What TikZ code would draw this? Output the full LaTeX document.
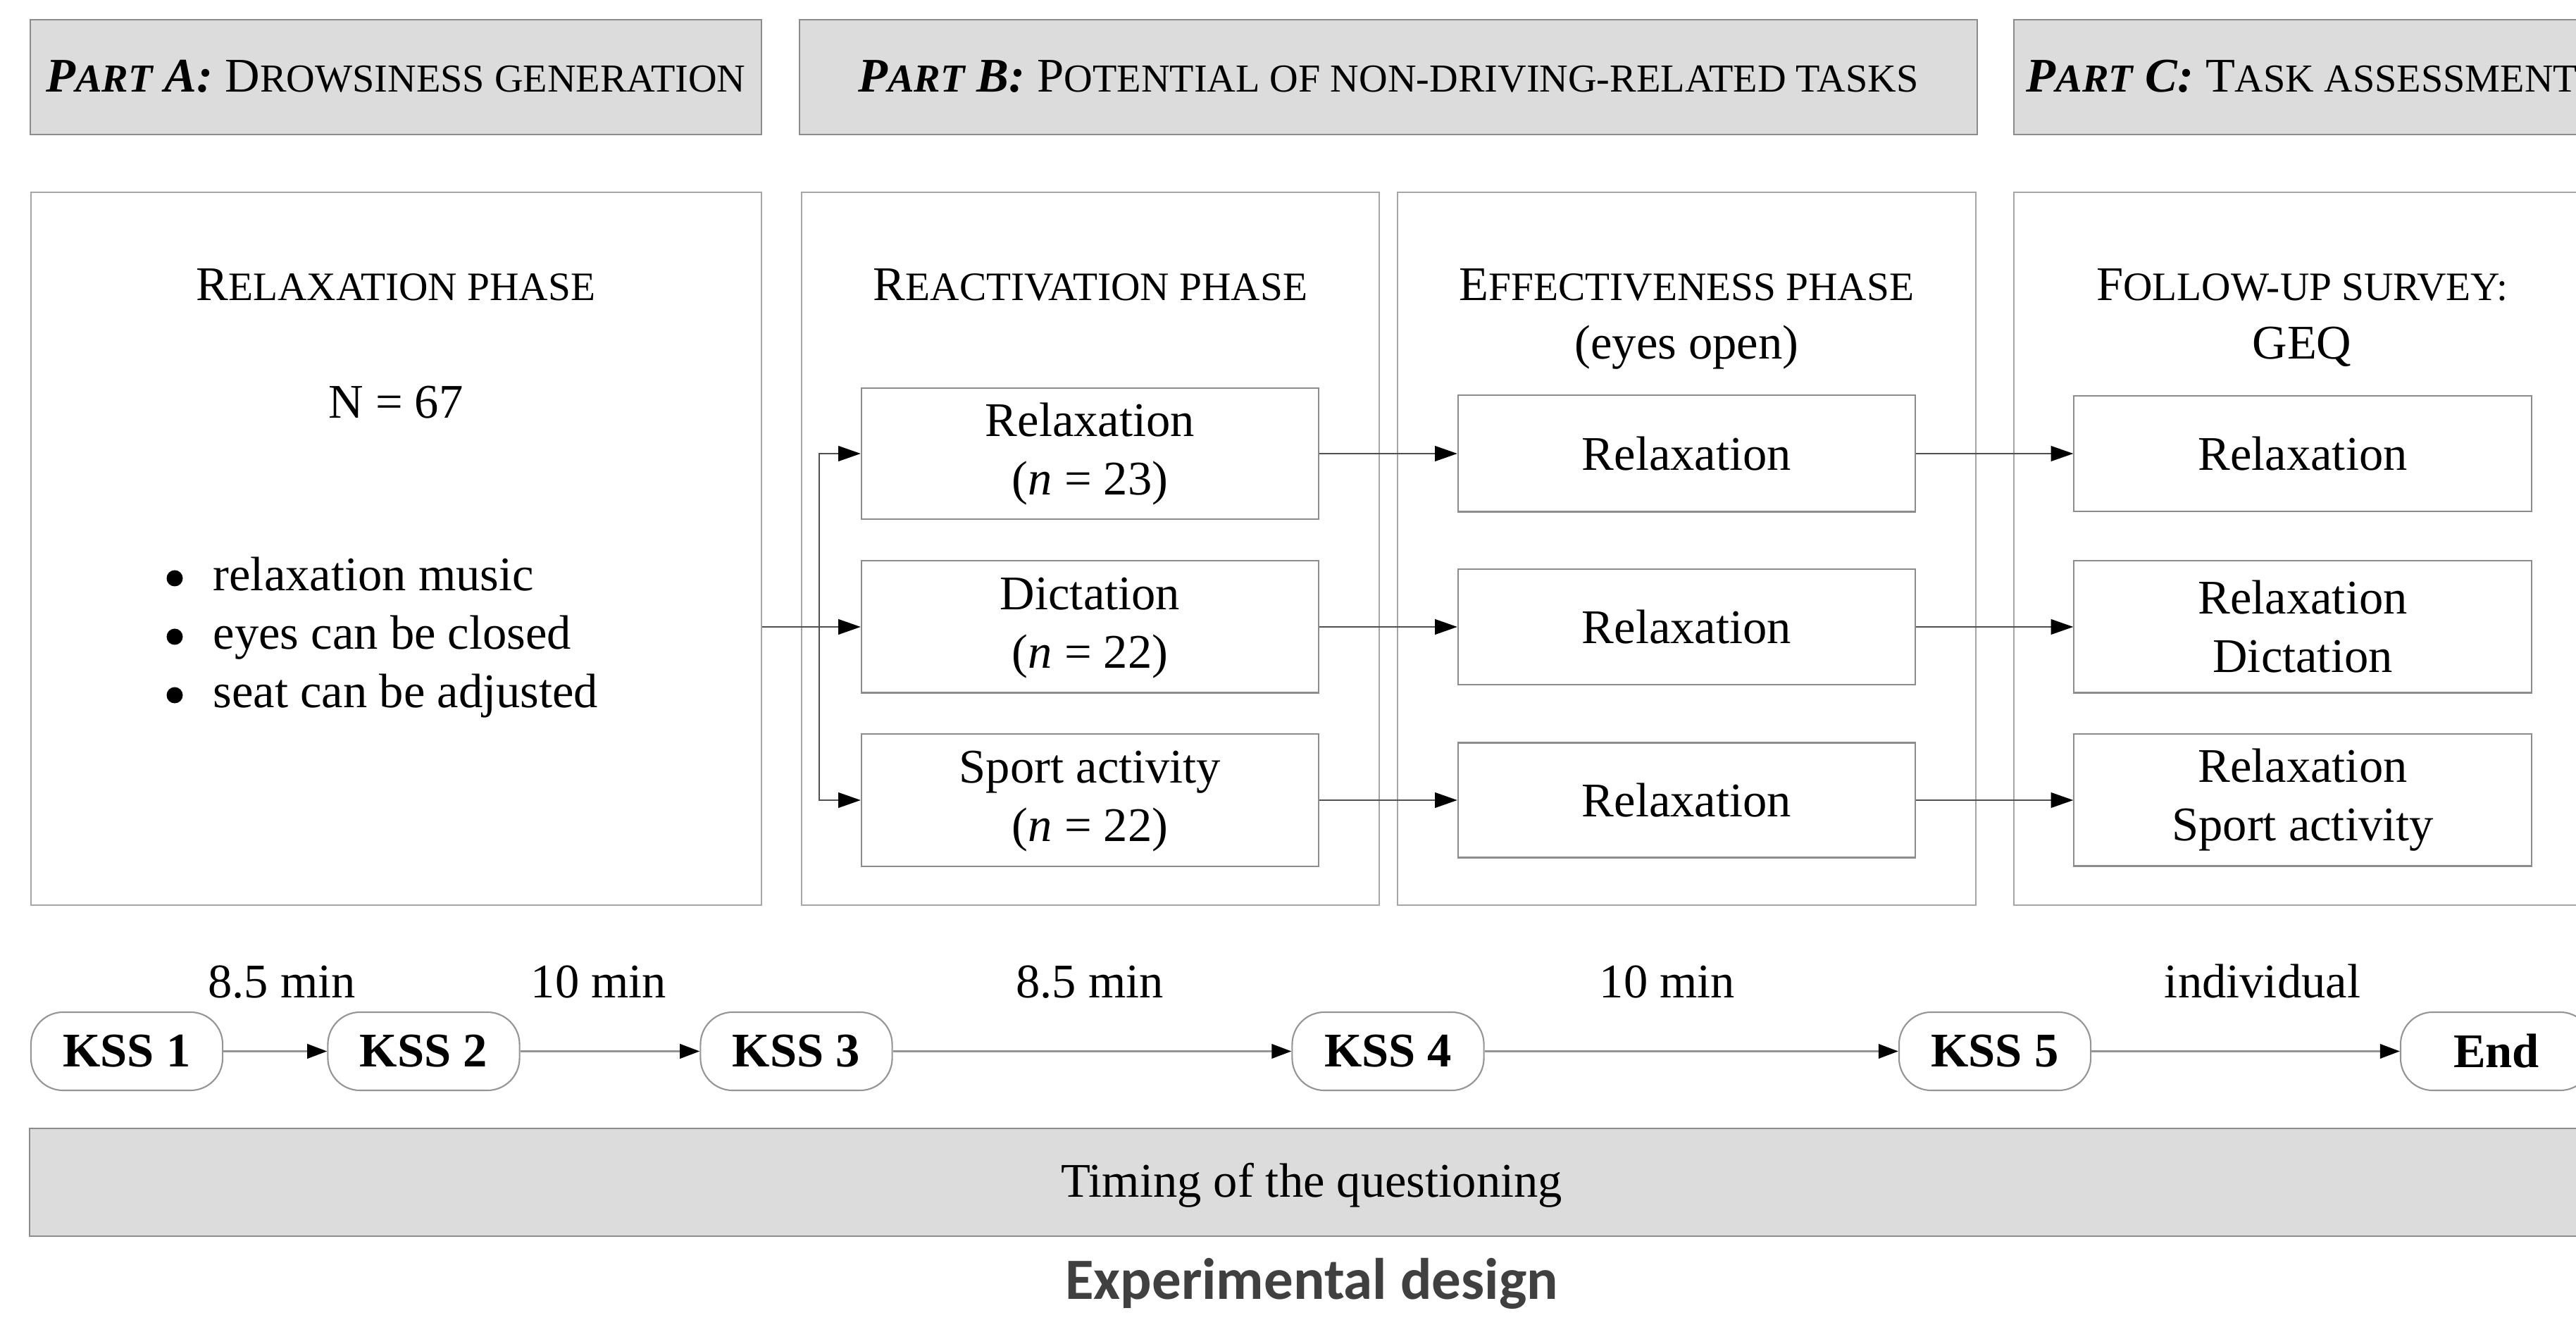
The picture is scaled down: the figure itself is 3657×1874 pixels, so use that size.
\documentclass[tikz,border=0pt]{standalone}
\usepackage{fontspec}
\setmainfont{Liberation Serif}
\newfontfamily\titlefont{Carlito}
\usetikzlibrary{arrows.meta,fit}
\newcommand\bodyfont{\fontsize{19.5pt}{23.6pt}\selectfont}
\newcommand\smcap[1]{{\fontsize{16.3pt}{19pt}\selectfont #1}}
\newcommand\hsmcap[1]{{\fontsize{16.0pt}{19pt}\selectfont #1}}
\definecolor{hdrfill}{HTML}{DCDCDC}
\definecolor{hdrdraw}{HTML}{8C8C8C}
\definecolor{paneldraw}{HTML}{A6A6A6}
\definecolor{boxdraw}{HTML}{8C8C8C}
\definecolor{arrline}{HTML}{505050}
\definecolor{tline}{HTML}{959595}
\definecolor{titlegray}{HTML}{404040}
\begin{document}
\begin{tikzpicture}[x=0.01cm,y=-0.01cm,font=\bodyfont,
  hdr/.style={fill=hdrfill,draw=hdrdraw,line width=0.7pt,inner sep=0pt},
  panel/.style={draw=paneldraw,line width=0.6pt,inner sep=0pt},
  ttl/.style={anchor=base,inner sep=0pt},
  task/.style={draw=boxdraw,line width=0.6pt,minimum width=6.49cm,align=center,inner sep=0pt},
  kss/.style={draw=tline,line width=0.6pt,rounded corners=13pt,minimum width=2.72cm,minimum height=1.11cm,inner sep=0pt,fill=white,font=\bodyfont\bfseries},
  arr/.style={draw=arrline,line width=0.45pt,-{Triangle[length=9pt,width=6.2pt,color=black]}},
  tarr/.style={draw=tline,line width=0.8pt,-{Triangle[length=8pt,width=5.8pt,color=black]}},
  lbl/.style={anchor=base,inner sep=0pt}]
\useasboundingbox (0,0) rectangle (3657,1874);
\clip (0,0) rectangle (3657,1874);

% headers
\node[hdr,fit={(43,28) (1081,191)}] (hA) {};
\node[hdr,fit={(1135,28) (2807,191)}] (hB) {};
\node[hdr,fit={(2859,28) (3678,191)}] (hC) {};
\node[ttl] (hAt) at (562,131) {{\bfseries\itshape P\hsmcap{ART} A:} D\hsmcap{ROWSINESS GENERATION}};
\node[ttl] (hBt) at (1971,131) {{\bfseries\itshape P\hsmcap{ART} B:} P\hsmcap{OTENTIAL OF NON-DRIVING-RELATED TASKS}};
\node[ttl] (hCt) at (3268,131) {{\bfseries\itshape P\hsmcap{ART} C:} T\hsmcap{ASK ASSESSMENT}};

% panels
\node[panel,fit={(44,273) (1081,1285)}] (pA) {};
\node[panel,fit={(1138,273) (1958,1285)}] (pB1) {};
\node[panel,fit={(1984,273) (2805,1285)}] (pB2) {};
\node[panel,fit={(2859,273) (3678,1285)}] (pC) {};

% panel titles
\node[ttl] (tA) at (562,427) {R\smcap{ELAXATION PHASE}};
\node[ttl] (nA) at (562,594) {N = 67};
\node[anchor=base west,inner sep=0pt] (listA) at (302,839)
  {\begin{tabular}[t]{@{}l@{}}
   relaxation music\\
   eyes can be closed\\
   seat can be adjusted
   \end{tabular}};
\fill (248,821) circle (11.5);
\fill (248,904) circle (11.5);
\fill (248,987) circle (11.5);
\node[ttl] (tB1) at (1548,427) {R\smcap{EACTIVATION PHASE}};
\node[ttl] (tB2) at (2394.5,427) {E\smcap{FFECTIVENESS PHASE}};
\node[ttl] (tB2b) at (2394.5,510) {(eyes open)};
\node[ttl] (tC) at (3268,427) {F\smcap{OLLOW-UP SURVEY:}};
\node[ttl] (tCb) at (3268,510) {GEQ};

% reactivation boxes
\node[task,minimum height=1.86cm] (rA) at (1547.5,644) {\raisebox{-2pt}{\begin{tabular}{@{}c@{}}Relaxation\\(\textit{n} = 23)\end{tabular}}};
\node[task,minimum height=1.87cm] (rB) at (1547.5,890) {\raisebox{-2pt}{\begin{tabular}{@{}c@{}}Dictation\\(\textit{n} = 22)\end{tabular}}};
\node[task,minimum height=1.88cm] (rC) at (1547.5,1136) {\raisebox{-2pt}{\begin{tabular}{@{}c@{}}Sport activity\\(\textit{n} = 22)\end{tabular}}};
% effectiveness boxes
\node[task,minimum height=1.65cm] (eA) at (2394.5,644) {Relaxation};
\node[task,minimum height=1.64cm] (eB) at (2394.5,890) {Relaxation};
\node[task,minimum height=1.63cm] (eC) at (2394.5,1136) {Relaxation};
% survey boxes
\node[task,minimum height=1.64cm] (sA) at (3269,644) {Relaxation};
\node[task,minimum height=1.87cm] (sB) at (3269,890) {Relaxation\\Dictation};
\node[task,minimum height=1.87cm] (sC) at (3269,1136) {Relaxation\\Sport activity};

% connectors
\coordinate (fork) at (1163,890);
\draw[arr] (pA.east |- rB.west) -- (rB.west);
\draw[arr] (fork) |- (rA.west);
\draw[arr] (fork) |- (rC.west);
\draw[arr] (rA) -- (eA);
\draw[arr] (rB) -- (eB);
\draw[arr] (rC) -- (eC);
\draw[arr] (eA) -- (sA);
\draw[arr] (eB) -- (sB);
\draw[arr] (eC) -- (sC);

% timeline
\node[kss] (k1) at (180,1492.5) {KSS 1};
\node[kss] (k2) at (601.5,1492.5) {KSS 2};
\node[kss] (k3) at (1130.5,1492.5) {KSS 3};
\node[kss] (k4) at (1970.5,1492.5) {KSS 4};
\node[kss] (k5) at (2832,1492.5) {KSS 5};
\node[kss] (kend) at (3544,1492.5) {End};
\draw[tarr] (k1) -- (k2);
\draw[tarr] (k2) -- (k3);
\draw[tarr] (k3) -- (k4);
\draw[tarr] (k4) -- (k5);
\draw[tarr] (k5) -- (kend);
\node[lbl] (l1) at (400,1416) {8.5 min};
\node[lbl] (l2) at (850,1416) {10 min};
\node[lbl] (l3) at (1547,1416) {8.5 min};
\node[lbl] (l4) at (2367,1416) {10 min};
\node[lbl] (l5) at (3212,1416) {individual};

% timing bar
\node[hdr,fit={(42,1602) (3682,1755)}] (bar) {};
\node[lbl] (bartxt) at (1862,1699) {Timing of the questioning};

% caption
\node[lbl,text=titlegray,font=\titlefont\bfseries\fontsize{23.6pt}{28pt}\selectfont] (cap) at (1862,1844) {Experimental design};
\end{tikzpicture}
\end{document}
